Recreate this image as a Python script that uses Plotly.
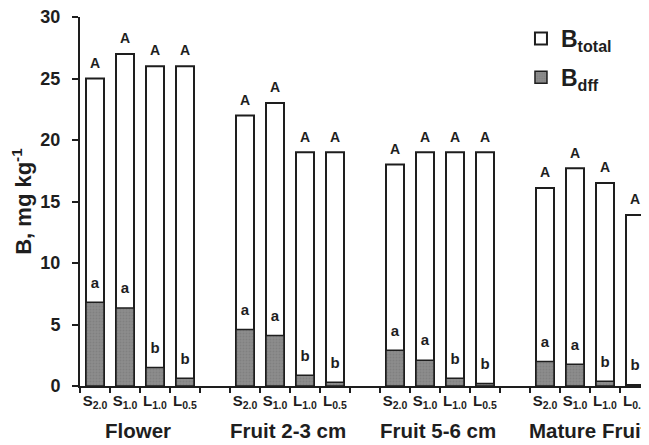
import plotly.graph_objects as go

groups = ["Flower", "Fruit 2-3 cm", "Fruit 5-6 cm", "Mature Fruit"]
treatments = ["S<sub>2.0</sub>", "S<sub>1.0</sub>", "L<sub>1.0</sub>", "L<sub>0.5</sub>"]

b_total = [25, 27, 26, 26,
           22, 23, 19, 19,
           18, 19, 19, 19,
           16.1, 17.7, 16.5, 13.9]
b_dff = [6.8, 6.35, 1.5, 0.62,
         4.6, 4.1, 0.87, 0.3,
         2.9, 2.1, 0.62, 0.2,
         2.0, 1.76, 0.38, 0.1]
total_letters = ["A"] * 16
dff_letters = ["a", "a", "b", "b"] * 4

# x positions: 4 bars per group, one empty slot between groups
xpos = [g * 5 + i for g in range(len(groups)) for i in range(len(treatments))]
ticktext = treatments * len(groups)
group_centers = [g * 5 + 1.5 for g in range(len(groups))]
minor_ticks = [k - 0.5 for k in range(0, 20)]

FONT = "Arial, Liberation Sans, sans-serif"
DARK = "#1e1e1e"

fig = go.Figure()
fig.add_trace(go.Bar(
    x=xpos, y=b_total, width=0.6, name="<b>B<sub>total</sub></b>", legendgroup="t",
    marker=dict(color="white", line=dict(color=DARK, width=2)),
))
fig.add_trace(go.Bar(
    x=xpos, y=b_dff, width=0.6, name="<b>B<sub>dff</sub></b>", legendgroup="d",
    marker=dict(color="#8a8a8a", line=dict(color=DARK, width=1.5),
                pattern=dict(shape=".", fgcolor="#737373", bgcolor="#8c8c8c", size=3, solidity=0.3)),
))
# significance letters
fig.add_trace(go.Scatter(
    x=xpos, y=b_total, mode="markers+text", text=total_letters, textposition="top center",
    marker=dict(size=10, opacity=0), showlegend=False, hoverinfo="skip", cliponaxis=False,
    textfont=dict(family=FONT, size=14, color=DARK, weight="bold"),
))
fig.add_trace(go.Scatter(
    x=xpos, y=b_dff, mode="markers+text", text=dff_letters, textposition="top center",
    marker=dict(size=16, opacity=0), showlegend=False, hoverinfo="skip", cliponaxis=False,
    textfont=dict(family=FONT, size=15, color=DARK, weight="bold"),
))

for gname, gc in zip(groups, group_centers):
    fig.add_annotation(x=gc, y=-0.158, xref="x", yref="paper", text=gname,
                       showarrow=False, yanchor="bottom", xanchor="center", xshift=-2,
                       font=dict(family=FONT, size=20.5, color=DARK, weight="bold"))

fig.update_layout(
    width=641, height=437,
    margin=dict(l=72, r=0, t=9, b=59),
    paper_bgcolor="white", plot_bgcolor="white",
    barmode="overlay", bargap=0.4,
    showlegend=True,
    legend=dict(x=0.775, y=1.0, xanchor="left", yanchor="top",
                font=dict(family=FONT, size=23, color=DARK),
                bgcolor="rgba(0,0,0,0)", traceorder="grouped", tracegroupgap=6,
                itemwidth=30),
    font=dict(family=FONT, color=DARK),
)
fig.update_xaxes(
    range=[-0.5, 18.4667], tickmode="array", tickvals=xpos, ticktext=ticktext,
    ticks="", showline=True, linecolor=DARK, linewidth=2, showgrid=False,
    zeroline=False, automargin=False,
    tickfont=dict(family=FONT, size=15, color=DARK, weight="bold"),
    minor=dict(tickmode="array", tickvals=minor_ticks, ticks="outside",
               ticklen=5, tickwidth=2, tickcolor=DARK, showgrid=False),
)
fig.update_yaxes(
    range=[0, 30], tickvals=[0, 5, 10, 15, 20, 25, 30],
    ticks="outside", ticklen=6, tickwidth=2, tickcolor=DARK,
    showline=True, linecolor=DARK, linewidth=2, showgrid=False, zeroline=False,
    automargin=False, ticklabeloverflow="allow", ticklabelstandoff=8,
    tickfont=dict(family=FONT, size=18, color=DARK, weight="bold"),
    title=dict(text="B, mg kg<sup>-1</sup>", standoff=12,
               font=dict(family=FONT, size=22, color=DARK, weight="bold")),
)

fig.write_html(
    "out.html",
    post_script="document.documentElement.style.overflow='hidden';document.body.style.overflow='hidden';",
)
